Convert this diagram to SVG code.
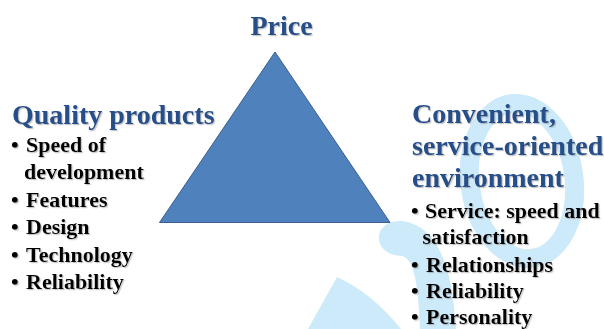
<svg xmlns="http://www.w3.org/2000/svg" width="604" height="329" viewBox="0 0 604 329">
  <defs>
    <filter id="shadow" x="-5%" y="-20%" width="110%" height="140%">
      <feDropShadow dx="1.2" dy="1.2" stdDeviation="0.7" flood-color="#7f7f7f" flood-opacity="0.45"/>
    </filter>
  </defs>
  <style>
    .wm { fill: #cdeafb; }
    .wmring { fill: none; stroke: #cdeafb; stroke-width: 19; }
    .head { font-family: "Liberation Serif", "Times New Roman", serif; font-weight: bold; font-size: 28px; fill: #27508a; filter: url(#shadow); }
    .item { font-family: "Liberation Serif", "Times New Roman", serif; font-weight: bold; font-size: 22px; fill: #000000; filter: url(#shadow); }
    .tri { fill: #4f81bd; stroke: #3a5f8e; stroke-width: 1; }
  </style>
  <rect x="0" y="0" width="604" height="329" fill="#ffffff"/>

  <g id="watermark">
    <path class="wm" d="M308,329 L337,277 Q372,293 401,329 Z"/>
    <path class="wm" d="M456,329 C453,285 446,245 421,228 C406,218 386,218 380,232 C375,246 388,256 402,256 C413,259 418,278 420,329 Z"/>
    <ellipse class="wmring" cx="522" cy="181" rx="52" ry="78" transform="rotate(-8 522 181)"/>
  </g>

  <g id="connectors"></g>

  <g id="triangle">
    <polygon class="tri" points="275,52 159.5,222.5 390,222.5"/>
  </g>

  <g id="price">
    <text class="head" x="250.5" y="35">Price</text>
  </g>

  <g id="quality">
    <text class="head" x="12" y="123.5">Quality products</text>
    <text class="item" x="11" y="151.7">•</text>
    <text class="item" x="26" y="151.7">Speed of</text>
    <text class="item" x="24" y="179.3">development</text>
    <text class="item" x="11" y="206.7">•</text>
    <text class="item" x="26" y="206.7">Features</text>
    <text class="item" x="11" y="234">•</text>
    <text class="item" x="26" y="234">Design</text>
    <text class="item" x="11" y="261.5">•</text>
    <text class="item" x="26" y="261.5">Technology</text>
    <text class="item" x="11" y="289">•</text>
    <text class="item" x="26" y="289">Reliability</text>
  </g>

  <g id="convenience">
    <text class="head" x="412" y="123.3">Convenient,</text>
    <text class="head" x="412" y="155">service-oriented</text>
    <text class="head" x="412" y="187.3">environment</text>
    <text class="item" x="411" y="218.3">•</text>
    <text class="item" x="425" y="218.3">Service: speed and</text>
    <text class="item" x="422.5" y="244">satisfaction</text>
    <text class="item" x="411" y="271.7">•</text>
    <text class="item" x="426" y="271.7">Relationships</text>
    <text class="item" x="411" y="298.3">•</text>
    <text class="item" x="426" y="298.3">Reliability</text>
    <text class="item" x="411" y="324">•</text>
    <text class="item" x="426" y="324">Personality</text>
  </g>
</svg>
